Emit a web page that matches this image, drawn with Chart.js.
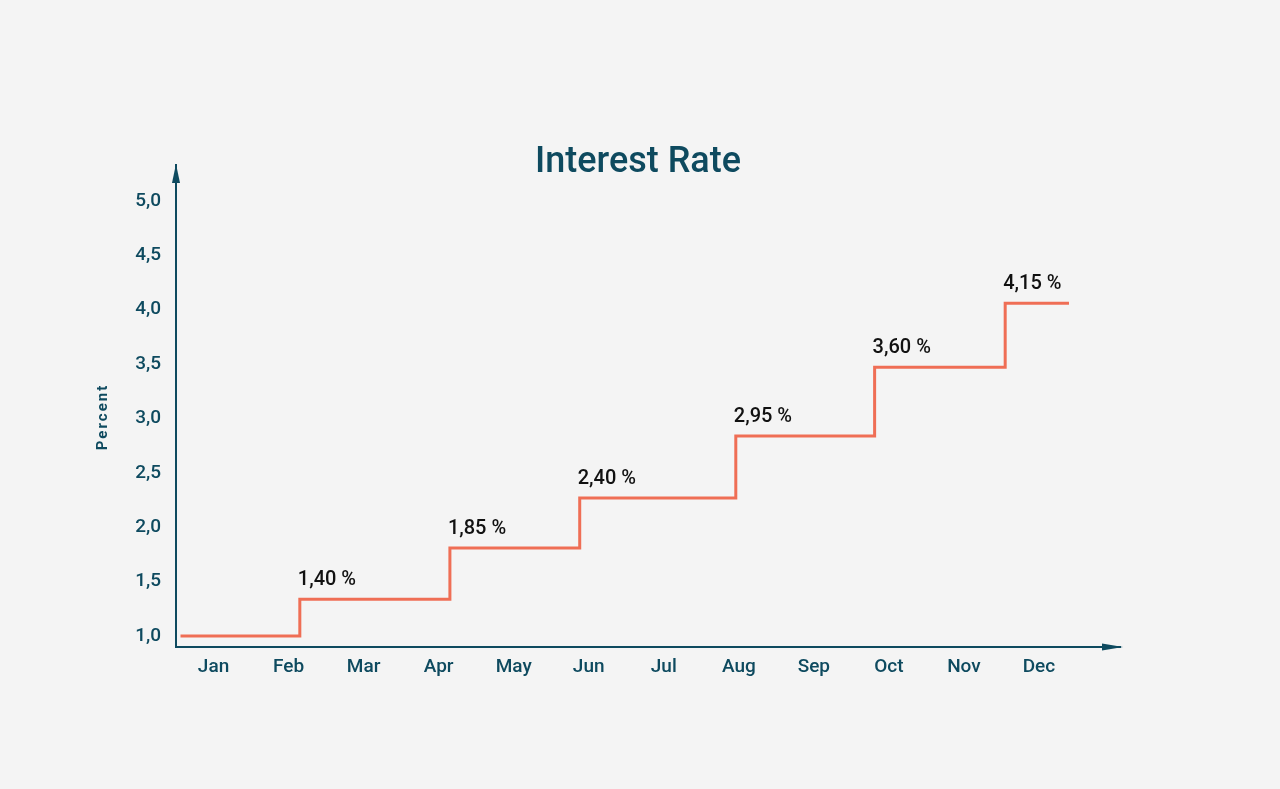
<!DOCTYPE html>
<html>
<head>
<meta charset="utf-8">
<script src="https://cdn.jsdelivr.net/npm/chart.js@4"></script>
<style>
  html, body { margin: 0; padding: 0; background: #f4f4f4; }
  #wrap { width: 1280px; height: 789px; }
</style>
</head>
<body>
<div id="wrap"><canvas id="c"></canvas></div>
<script>
const months = ["Jan", "Feb", "Mar", "Apr", "May", "Jun", "Jul", "Aug", "Sep", "Oct", "Nov", "Dec"];
const yTicks = [1.0, 1.5, 2.0, 2.5, 3.0, 3.5, 4.0, 4.5, 5.0];

// step positions (in month units) and the level the line moves to there
const stepMonths = [-0.44, 1.15, 3.15, 4.88, 6.96, 8.81, 10.55, 11.4];
const rates = [1.0, 1.34, 1.81, 2.27, 2.84, 3.47, 4.06, 4.06];
const rateLabels = ["", "1,40 %", "1,85 %", "2,40 %", "2,95 %", "3,60 %", "4,15 %", ""];

const teal = "#0e4a5f";
const font = "Roboto, 'Liberation Sans', sans-serif";

const extras = {
    id: "extras",
    beforeDraw(chart) {
        const { ctx } = chart;
        ctx.save();
        ctx.fillStyle = "#f4f4f4";
        ctx.fillRect(0, 0, chart.width, chart.height);
        ctx.restore();
    },
    afterDraw(chart) {
        const { ctx, chartArea: a, scales } = chart;
        ctx.save();

        // title
        ctx.fillStyle = teal;
        ctx.font = "500 36px " + font;
        ctx.textAlign = "center";
        ctx.textBaseline = "middle";
        ctx.fillText("Interest Rate", 638, 163);

        // y axis title
        ctx.translate(103, 417);
        ctx.rotate(-Math.PI / 2);
        ctx.font = "bold 15px " + font;
        ctx.letterSpacing = "2px";
        ctx.fillText("Percent", 0, 0);
        ctx.setTransform(1, 0, 0, 1, 0, 0);
        ctx.letterSpacing = "0px";
        ctx.scale(chart.currentDevicePixelRatio, chart.currentDevicePixelRatio);

        // arrowheads
        ctx.fillStyle = teal;
        ctx.beginPath();
        ctx.moveTo(a.left, a.top - 1);
        ctx.lineTo(a.left - 4, a.top + 18);
        ctx.lineTo(a.left + 4, a.top + 18);
        ctx.closePath();
        ctx.fill();
        ctx.beginPath();
        ctx.moveTo(a.right + 3, a.bottom);
        ctx.lineTo(a.right - 18, a.bottom - 3.5);
        ctx.lineTo(a.right - 18, a.bottom + 3.5);
        ctx.closePath();
        ctx.fill();

        // value labels at each step
        ctx.fillStyle = "#111";
        ctx.font = "500 20px " + font;
        ctx.textAlign = "left";
        ctx.textBaseline = "middle";
        rateLabels.forEach((t, i) => {
            if (!t) return;
            const x = scales.x.getPixelForValue(stepMonths[i]);
            const y = scales.y.getPixelForValue(rates[i]);
            ctx.fillText(t, x - 2, y - 19);
        });
        ctx.restore();
    }
};

new Chart(document.getElementById("c"), {
    type: "line",
    data: {
        datasets: [{
            data: stepMonths.map((m, i) => ({ x: m, y: rates[i] })),
            stepped: true,
            borderColor: "#ef6e55",
            borderWidth: 3,
            pointRadius: 0,
            fill: false,
        }],
    },
    options: {
        responsive: true,
        maintainAspectRatio: false,
        animation: false,
        layout: { padding: { top: 165, right: 160, bottom: 0, left: 0 } },
        plugins: {
            legend: { display: false },
            tooltip: { enabled: false },
        },
        scales: {
            x: {
                type: "linear",
                min: -0.5,
                max: 12.08,
                afterBuildTicks: (s) => { s.ticks = months.map((m, i) => ({ value: i })); },
                afterFit: (s) => { s.height = 142; },
                grid: { display: false, drawTicks: false },
                border: { display: true, color: teal, width: 2 },
                ticks: {
                    autoSkip: false,
                    maxRotation: 0,
                    padding: 9,
                    color: teal,
                    font: { family: font, size: 19, weight: "500" },
                    callback: (v) => months[Math.round(v)],
                },
            },
            y: {
                min: 0.9,
                max: 5.33,
                afterBuildTicks: (s) => { s.ticks = yTicks.map((v) => ({ value: v })); },
                afterFit: (s) => { s.width = 176; },
                grid: { display: false, drawTicks: false },
                border: { display: true, color: teal, width: 2 },
                ticks: {
                    padding: 15,
                    color: teal,
                    font: { family: font, size: 19, weight: "500" },
                    callback: (v) => v.toFixed(1).replace(".", ","),
                },
            },
        },
    },
    plugins: [extras],
});
</script>
</body>
</html>
